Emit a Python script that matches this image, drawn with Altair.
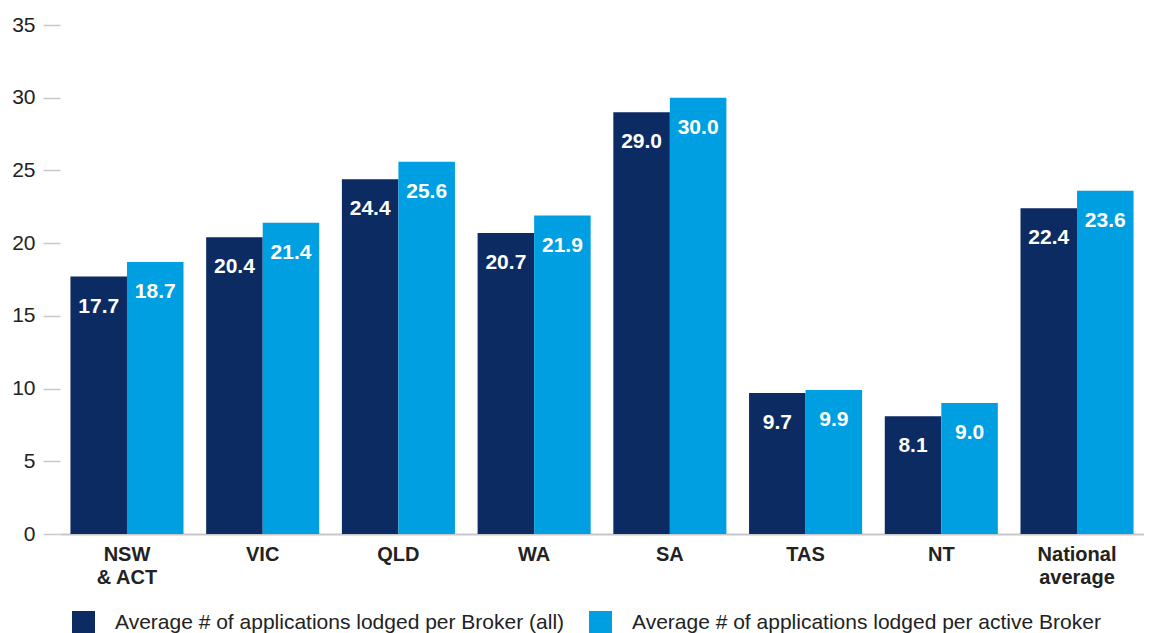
import altair as alt
import pandas as pd

categories = ["NSW\n& ACT", "VIC", "QLD", "WA", "SA", "TAS", "NT", "National\naverage"]
series_names = [
    "Average # of applications lodged per Broker (all)",
    "Average # of applications lodged per active Broker",
]
all_brokers = [17.7, 20.4, 24.4, 20.7, 29.0, 9.7, 8.1, 22.4]
active_brokers = [18.7, 21.4, 25.6, 21.9, 30.0, 9.9, 9.0, 23.6]
colors = ["#0b2b62", "#009fe1"]
y_ticks = [0, 5, 10, 15, 20, 25, 30, 35]

rows = []
for c, a, b in zip(categories, all_brokers, active_brokers):
    rows.append({"region": c, "series": series_names[0], "value": a})
    rows.append({"region": c, "series": series_names[1], "value": b})
df = pd.DataFrame(rows)

FONT = "Liberation Sans"

x_enc = alt.X(
    "region:N",
    sort=categories,
    title=None,
    scale=alt.Scale(paddingInner=0.167, paddingOuter=0.077),
)
xo = alt.XOffset("series:N", sort=series_names, scale=alt.Scale(paddingInner=0, paddingOuter=0))
y_enc = alt.Y(
    "value:Q",
    title=None,
    scale=alt.Scale(domain=[0, 35], nice=False),
    axis=alt.Axis(values=y_ticks),
)

base = alt.Chart(df)

bars = base.mark_bar().encode(
    x=x_enc,
    xOffset=xo,
    y=y_enc,
    color=alt.Color(
        "series:N",
        sort=series_names,
        scale=alt.Scale(domain=series_names, range=colors),
        legend=alt.Legend(
            title=None,
            orient="none",
            legendX=12,
            legendY=586,
            direction="horizontal",
            symbolType="square",
            symbolSize=529,
            symbolStrokeWidth=0,
            symbolOpacity=1,
            labelFont=FONT,
            labelFontSize=21,
            labelColor="#222222",
            labelOffset=20,
            columnPadding=24,
            padding=0,
            labelLimit=600,
        ),
    ),
)

labels = base.mark_text(
    color="white",
    font=FONT,
    fontSize=21,
    fontWeight="bold",
    baseline="middle",
    align="center",
    dy=30,
).encode(
    x=x_enc,
    xOffset=xo,
    y=y_enc,
    text=alt.Text("value:Q", format=".1f"),
)

chart = (
    alt.layer(bars, labels)
    .properties(
        width=1084,
        height=509,
        padding={"left": 52, "top": 17, "right": 0, "bottom": 99},
        autosize=alt.AutoSizeParams(type="none"),
        background="white",
    )
    .configure_view(strokeWidth=0)
    .configure_axisX(
        labelAngle=0,
        labelExpr="split(datum.label, '\\n')",
        labelFont=FONT,
        labelFontSize=20,
        labelFontWeight="bold",
        labelColor="#222222",
        labelLineHeight=23,
        labelPadding=10,
        labelBaseline="top",
        ticks=False,
        grid=False,
        domainColor="#c8c8c8",
        domainWidth=2,
    )
    .configure_axisY(
        grid=False,
        domain=False,
        ticks=True,
        tickSize=17,
        tickColor="#c8c8c8",
        tickWidth=1.5,
        labelPadding=8,
        labelFont=FONT,
        labelFontSize=21,
        labelColor="#222222",
    )
)

chart.save("out.html", embed_options={"renderer": "svg", "actions": False})
